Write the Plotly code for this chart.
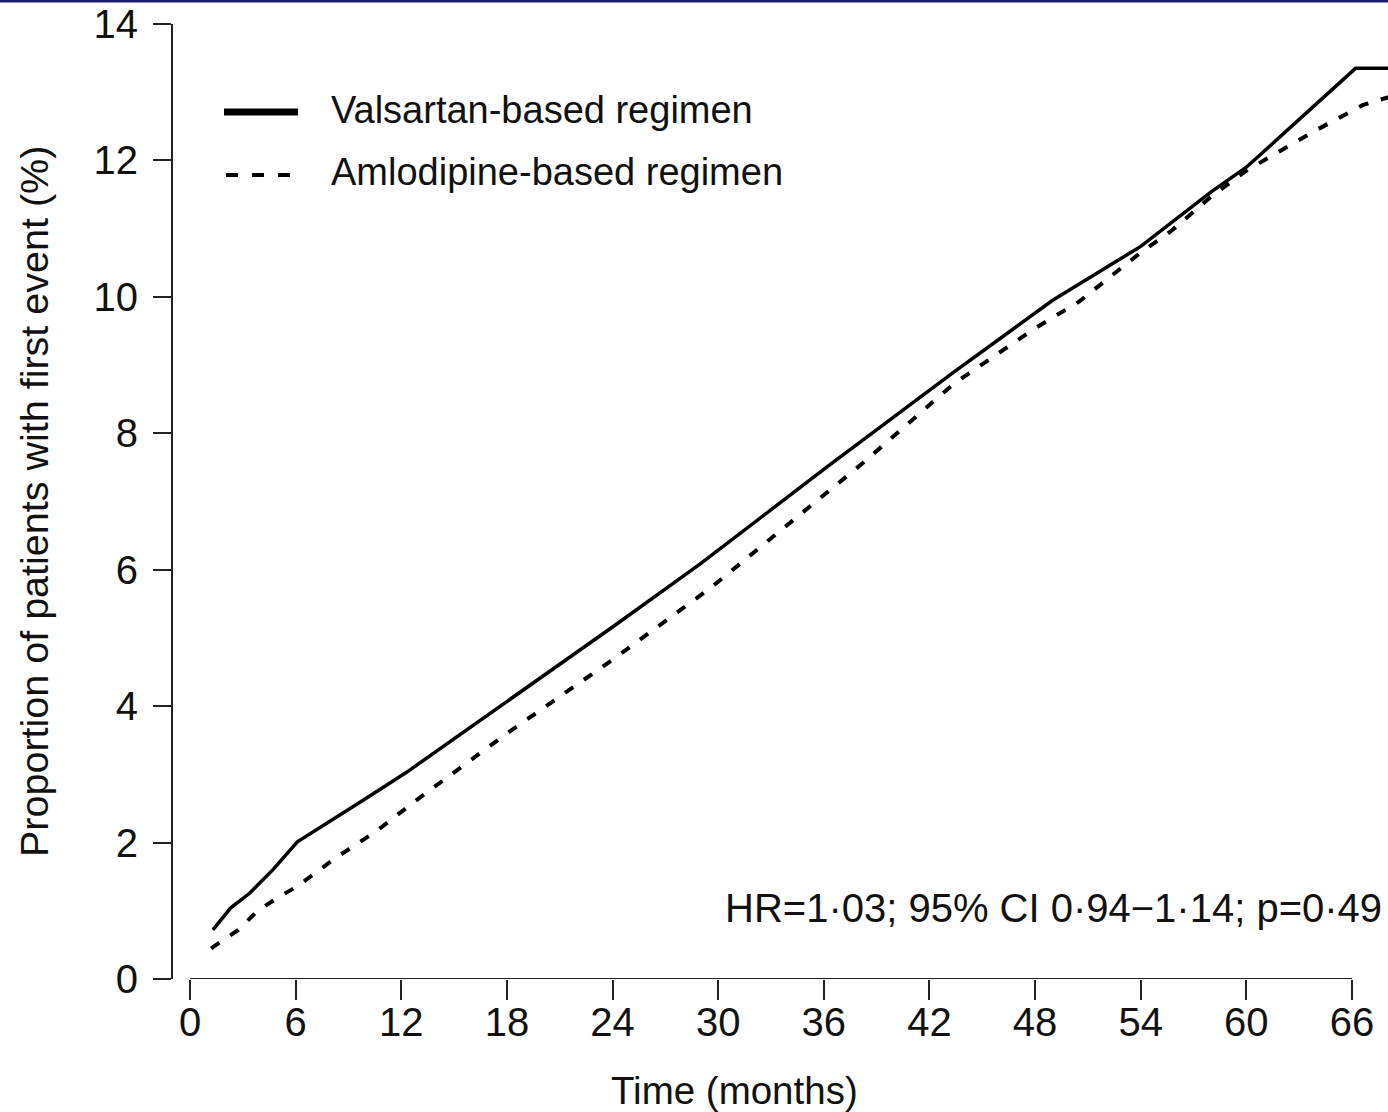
import plotly.graph_objects as go

# Valsartan-based regimen (solid)
months_val = [1.3, 2.3, 3.4, 4.7, 6.1, 7.6, 9.9, 12.3, 18, 24, 29, 36.2, 43.4, 49, 54, 55.8, 58, 60, 63.8, 66.2, 68.1]
pct_val = [0.72, 1.04, 1.26, 1.6, 2.01, 2.25, 2.63, 3.03, 4.07, 5.16, 6.09, 7.51, 8.9, 9.95, 10.74, 11.1, 11.54, 11.9, 12.79, 13.35, 13.35]

# Amlodipine-based regimen (dashed)
months_aml = [1.2, 2.75, 3.8, 4.9, 6.1, 8.3, 10.6, 12.8, 18, 24, 29.6, 38.2, 43.4, 48, 50.5, 54, 55.8, 58, 60, 63.8, 66.6, 68.1]
pct_aml = [0.45, 0.72, 0.99, 1.18, 1.36, 1.78, 2.17, 2.61, 3.6, 4.68, 5.74, 7.56, 8.73, 9.54, 9.93, 10.65, 10.98, 11.47, 11.85, 12.42, 12.81, 12.93]

x_ticks = [0, 6, 12, 18, 24, 30, 36, 42, 48, 54, 60, 66]
y_ticks = [0, 2, 4, 6, 8, 10, 12, 14]

series_names = ["Valsartan-based regimen", "Amlodipine-based regimen"]
stats_text = "HR=1·03; 95% CI 0·94\u22121·14; p=0·49"

FONT = "Liberation Sans"
W, H = 1388, 1112
ML, MR, MT, MB = 173, 0, 24, 133
PW, PH = W - ML - MR, H - MT - MB
INK = "#111"


def px(xp):
    return (xp - ML) / PW


def py(yp):
    return (H - MB - yp) / PH


fig = go.Figure()
fig.add_trace(go.Scatter(x=months_val, y=pct_val, mode="lines", name=series_names[0],
                         line=dict(color="black", width=3.5), showlegend=False))
fig.add_trace(go.Scatter(x=months_aml, y=pct_aml, mode="lines", name=series_names[1],
                         line=dict(color="black", width=4, dash="10px,13px"), showlegend=False))

x_per_px = (x_ticks[-1] - x_ticks[0]) / (1352 - 190)
x_range = [x_ticks[0] - (190 - ML) * x_per_px, x_ticks[0] + (W - MR - 190) * x_per_px]

shapes = [
    dict(type="line", xref="x", yref="y", x0=x_ticks[0], x1=x_ticks[-1], y0=0, y1=0,
         line=dict(color="#222", width=2)),
    dict(type="line", xref="paper", yref="paper", x0=px(224), x1=px(298), y0=py(112), y1=py(112),
         line=dict(color="black", width=7)),
    dict(type="line", xref="paper", yref="paper", x0=px(226), x1=px(290), y0=py(175), y1=py(175),
         line=dict(color="black", width=4, dash="12px,14px")),
    dict(type="rect", xref="paper", yref="paper", x0=px(0), x1=px(W), y0=py(2.5), y1=py(-2),
         line=dict(width=0), fillcolor="#1b1b6b"),
]

annotations = [
    dict(text=series_names[0], xref="paper", yref="paper", x=px(329), y=py(110),
         xanchor="left", yanchor="middle", showarrow=False, font=dict(family=FONT, size=38, color=INK)),
    dict(text=series_names[1], xref="paper", yref="paper", x=px(329), y=py(172),
         xanchor="left", yanchor="middle", showarrow=False, font=dict(family=FONT, size=38, color=INK)),
    dict(text=stats_text, xref="paper", yref="paper", x=px(1384), y=py(908),
         xanchor="right", yanchor="middle", showarrow=False, font=dict(family=FONT, size=40, color=INK)),
    dict(text="Time (months)", xref="paper", yref="paper", x=px(734), y=py(1090),
         xanchor="center", yanchor="middle", showarrow=False, font=dict(family=FONT, size=38.5, color=INK)),
    dict(text="Proportion of patients with first event (%)", xref="paper", yref="paper",
         x=px(34), y=py(502), textangle=-90, xanchor="center", yanchor="middle", showarrow=False,
         font=dict(family=FONT, size=39.5, color=INK)),
]

fig.update_layout(
    width=W, height=H,
    margin=dict(l=ML, r=MR, t=MT, b=MB, pad=0),
    paper_bgcolor="white", plot_bgcolor="white",
    showlegend=False,
    shapes=shapes,
    annotations=annotations,
    xaxis=dict(range=x_range, tickmode="array", tickvals=x_ticks, ticktext=[str(v) for v in x_ticks],
               ticks="outside", ticklen=20, tickwidth=2, tickcolor="#222",
               showline=False, showgrid=False, zeroline=False,
               tickfont=dict(family=FONT, size=40, color=INK), ticklabelstandoff=-12),
    yaxis=dict(range=[0, 14], tickmode="array", tickvals=y_ticks, ticktext=[str(v) for v in y_ticks],
               ticks="outside", ticklen=18, tickwidth=2, tickcolor="#222",
               showline=True, linewidth=2, linecolor="#222", showgrid=False, zeroline=False,
               tickfont=dict(family=FONT, size=40, color=INK), ticklabelstandoff=7),
)

fig.write_html(
    "out.html",
    config={"displayModeBar": False},
    post_script="document.body.style.margin='0';document.body.style.overflow='hidden';",
)
